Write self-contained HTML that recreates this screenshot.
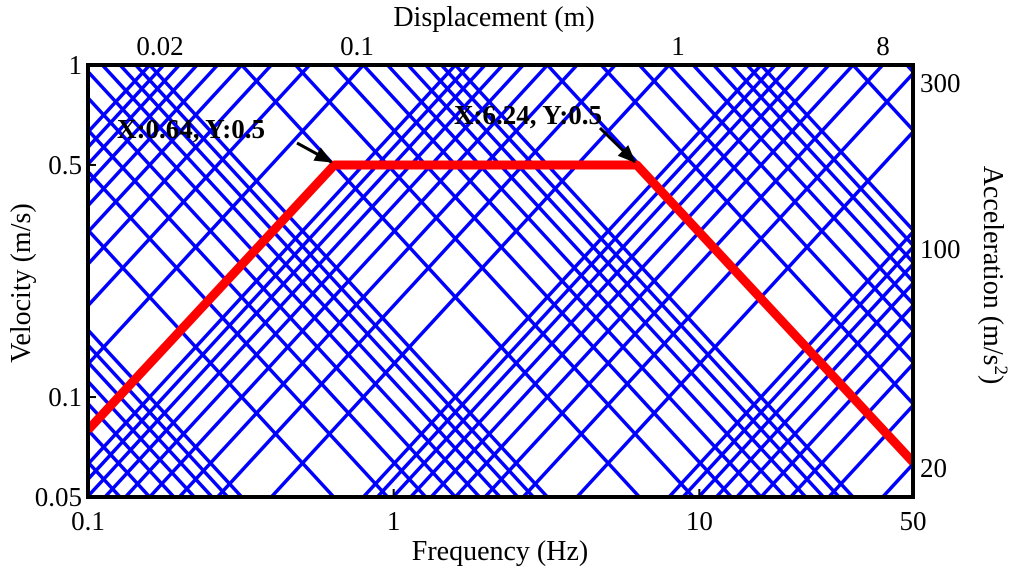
<!DOCTYPE html>
<html><head><meta charset="utf-8"><style>
html,body{margin:0;background:#fff;overflow:hidden;width:1024px;height:576px}
svg{display:block;font-family:"Liberation Serif",serif}
</style></head><body>
<svg id="c" width="1024" height="576">
<defs><clipPath id="clip"><rect x="88" y="65" width="825" height="432"/></clipPath>
<marker id="ah" markerWidth="6" markerHeight="6" refX="5.5" refY="3" orient="auto" markerUnits="strokeWidth"><path d="M0,0.5 L6,3 L0,5.5 Z" fill="#000"/></marker></defs>
<g id="grid" clip-path="url(#clip)"></g>
<g id="red" clip-path="url(#clip)"></g>
<rect x="88" y="65" width="825" height="432" fill="none" stroke="#000" stroke-width="4"/>
<g id="labels" font-size="27"></g>
</svg>
<script>
const xTicks=[0.1,1,10,50];
const xTickLabels=["0.1","1","10","50"];
const yTicks=[0.05,0.1,0.5,1];
const yTickLabels=["0.05","0.1","0.5","1"];
const dispLabels=["0.02","0.1","1","8"];
const accLabels=["300","100","20"];
const dispDecades=[1e-4,1e-3,1e-2,1e-1,1];
const accDecades=[0.01,0.1,1,10,100];
const multipliers=[1,2,3,4,5,6,7,8,9];
const redF=[0.1,0.64,6.24,50];
const redV=[0.0796,0.5,0.5,0.0637];

const X0=88,X1=913,Y0=65,Y1=497;
const lx0=Math.log10(0.1),lx1=Math.log10(50),ly0=Math.log10(0.05),ly1=Math.log10(1);
const sx=f=>X0+(Math.log10(f)-lx0)/(lx1-lx0)*(X1-X0);
const sy=v=>Y1-(Math.log10(v)-ly0)/(ly1-ly0)*(Y1-Y0);
const NS="http://www.w3.org/2000/svg";
function mk(t,a,p){const e=document.createElementNS(NS,t);for(const k in a)e.setAttribute(k,a[k]);p.appendChild(e);return e;}
const grid=document.getElementById('grid');
const fa=0.05,fb=80;
dispDecades.forEach(dd=>multipliers.forEach(m=>{
 const d=dd*m;const v=f=>2*Math.PI*f*d;
 const l=mk('line',{x1:sx(fa),y1:sy(v(fa)),x2:sx(fb),y2:sy(v(fb)),stroke:'#0000ff','stroke-width':3.5},grid);
 
 
}));
accDecades.forEach(ad=>multipliers.forEach(m=>{
 const a=ad*m;const v=f=>a/(2*Math.PI*f);
 const l=mk('line',{x1:sx(fa),y1:sy(v(fa)),x2:sx(fb),y2:sy(v(fb)),stroke:'#0000ff','stroke-width':3.5},grid);
 
 
}));
const red=document.getElementById('red');
const pl=mk('polyline',{points:redF.map((f,i)=>sx(f)+','+sy(redV[i])).join(' '),fill:'none',stroke:'#ff0000','stroke-width':9,'stroke-linejoin':'round'},red);


const L=document.getElementById('labels');
function txt(s,x,y,anchor,name,extra){const t=mk('text',Object.assign({x:x,y:y,'text-anchor':anchor},extra||{}),L);t.textContent=s;
 
 return t;}
xTicks.forEach((f,i)=>{txt(xTickLabels[i],sx(f),530,'middle','x-tick-label');mk('line',{x1:sx(f),y1:Y1,x2:sx(f),y2:Y1-8,stroke:'#000','stroke-width':2},L);});
yTicks.forEach((v,i)=>{txt(yTickLabels[i],82,sy(v)+9,'end','y-tick-label');mk('line',{x1:X0,y1:sy(v),x2:X0+8,y2:sy(v),stroke:'#000','stroke-width':2},L);});
const dispX=[160,357,678,883];
dispLabels.forEach((s,i)=>txt(s,dispX[i],55,'middle','displacement-tick-label'));
const accY=[92,258,477];
accLabels.forEach((s,i)=>txt(s,920,accY[i],'start','acceleration-tick-label'));
txt('Frequency (Hz)',500,560,'middle','x-axis-title',{'font-size':28});
txt('Displacement (m)',494,26,'middle','top-axis-title',{'font-size':28});
txt('Velocity (m/s)',0,0,'middle','y-axis-title',{'font-size':28,transform:'translate(30,283) rotate(-90)'});
const at=txt('',0,0,'middle','right-axis-title',{'font-size':28,transform:'translate(984,275) rotate(90)'});
at.innerHTML='Acceleration (m/s<tspan dy="-11" font-size="19">2</tspan><tspan dy="11">)</tspan>';
txt('X:0.64, Y:0.5',117,138,'start','annotation-1',{'font-weight':'bold','font-size':27});
txt('X:6.24, Y:0.5',454,124,'start','annotation-2',{'font-weight':'bold','font-size':27});
mk('line',{x1:297,y1:143,x2:sx(0.64)-3,y2:sy(0.5)-3,stroke:'#000','stroke-width':3,'marker-end':'url(#ah)'},L);
mk('line',{x1:600,y1:128,x2:sx(6.24)-2,y2:sy(0.5)-3,stroke:'#000','stroke-width':3,'marker-end':'url(#ah)'},L);
</script>
</body></html>
